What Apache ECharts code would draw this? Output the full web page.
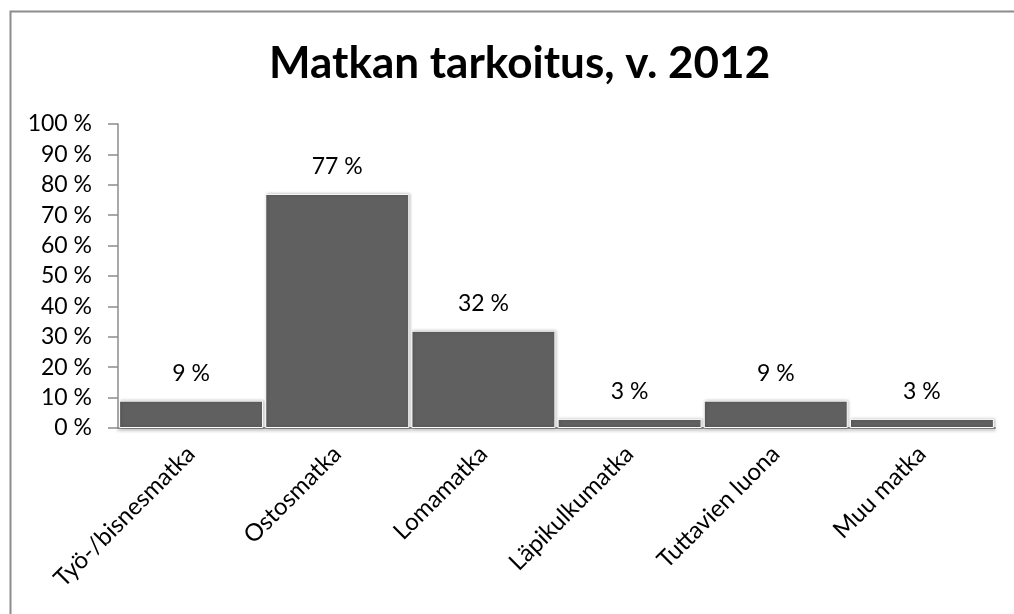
<!DOCTYPE html>
<html>
<head>
<meta charset="utf-8">
<script src="https://cdn.jsdelivr.net/npm/echarts@6/dist/echarts.min.js"></script>
<style>
  html, body { margin: 0; padding: 0; background: #fff; }
  #main { width: 1014px; height: 614px; }
</style>
</head>
<body>
<div id="main"></div>
<script>
// Data
const categories = ['Työ-/bisnesmatka', 'Ostosmatka', 'Lomamatka', 'Läpikulkumatka', 'Tuttavien luona', 'Muu matka'];
const shares = [9, 77, 32, 3, 9, 3];
const titleText = 'Matkan tarkoitus, v. 2012';

const font = 'Lato, "Open Sans", sans-serif';
const chart = echarts.init(document.getElementById('main'), null, { renderer: 'canvas' });

chart.setOption({
    backgroundColor: '#fff',
    animation: false,
    title: {
        text: titleText,
        left: 264,
        top: 37,
        textStyle: { fontFamily: font, fontWeight: 'bold', fontSize: 44, color: '#000' }
    },
    // outer frame, runs off the right and bottom edge like the reference
    graphic: [{
        type: 'rect',
        shape: { x: 10.5, y: 11.5, width: 1100, height: 700 },
        style: { fill: null, stroke: '#8c8c8c', lineWidth: 2 },
        silent: true
    }],
    grid: { left: 118, right: 19, top: 124, bottom: 186 },
    xAxis: {
        type: 'category',
        data: categories,
        axisLine: { lineStyle: { color: '#8c8c8c', width: 2, shadowColor: 'rgba(0,0,0,0.25)', shadowBlur: 3, shadowOffsetY: 2 } },
        axisTick: { show: false },
        axisLabel: { rotate: 45, margin: 22, fontSize: 24, fontFamily: font, color: '#000', interval: 0 }
    },
    yAxis: {
        type: 'value',
        min: 0,
        max: 100,
        interval: 10,
        axisLine: { show: true, lineStyle: { color: '#8c8c8c', width: 1.5 } },
        axisTick: { show: true, length: 10, lineStyle: { color: '#8c8c8c', width: 1.5 } },
        splitLine: { show: false },
        axisLabel: { formatter: '{value} %', margin: 26, fontSize: 23, fontFamily: font, color: '#000' }
    },
    series: [{
        type: 'bar',
        data: shares,
        barCategoryGap: '1.5%',
        itemStyle: {
            color: '#606060',
            borderColor: '#fff',
            borderWidth: 1,
            shadowColor: 'rgba(0,0,0,0.25)',
            shadowBlur: 3,
            shadowOffsetX: 1
        },
        label: {
            show: true,
            position: 'top',
            distance: 16,
            formatter: '{c} %',
            fontSize: 23,
            fontFamily: font,
            color: '#000'
        }
    }]
});
</script>
</body>
</html>
